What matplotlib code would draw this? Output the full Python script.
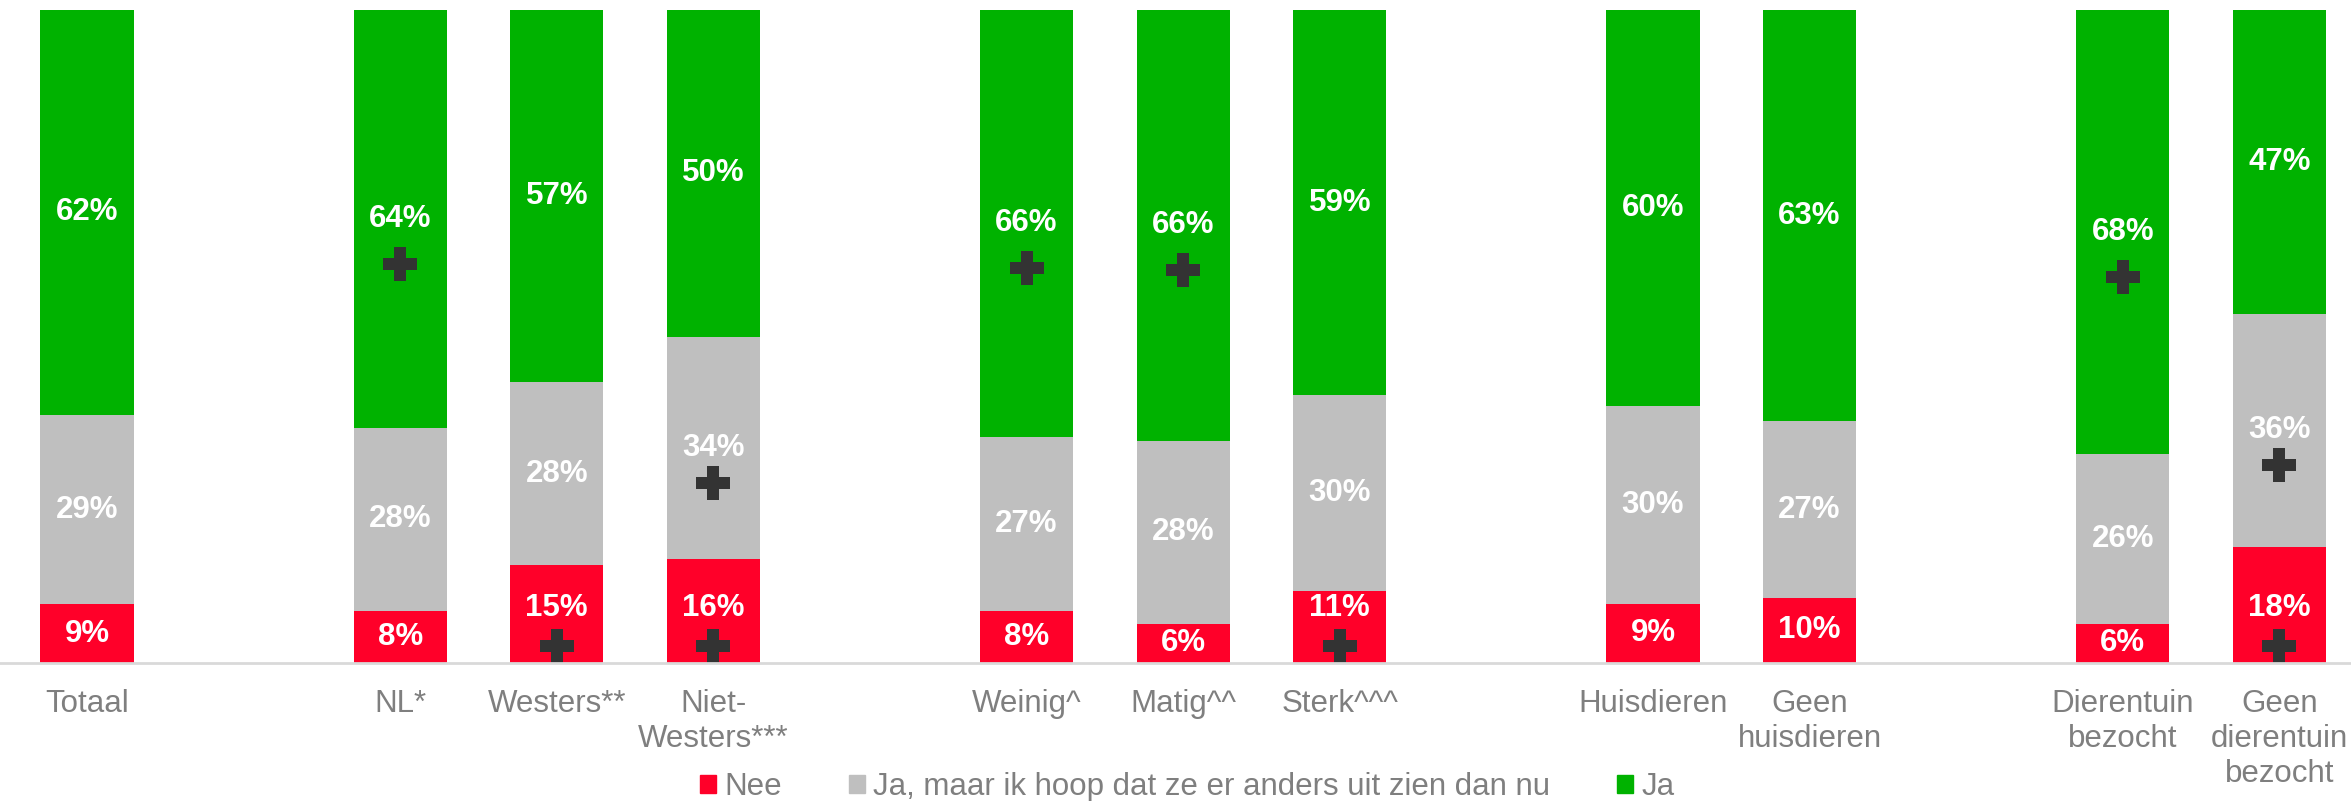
import numpy as np
import matplotlib.pyplot as plt
import matplotlib.transforms as mtransforms
from matplotlib.patches import Patch

plt.rcParams.update({
    "font.family": ["Liberation Sans", "DejaVu Sans"],
})

# data (percentages)
categories = ["Totaal", "NL*", "Westers**", "Niet-\nWesters***",
              "Weinig^", "Matig^^", "Sterk^^^",
              "Huisdieren", "Geen\nhuisdieren",
              "Dierentuin\nbezocht", "Geen\ndierentuin\nbezocht"]
slots = [0, 2, 3, 4, 6, 7, 8, 10, 11, 13, 14]
nee = [9, 8, 15, 16, 8, 6, 11, 9, 10, 6, 18]
ja_maar = [29, 28, 28, 34, 27, 28, 30, 30, 27, 26, 36]
ja = [62, 64, 57, 50, 66, 66, 59, 60, 63, 68, 47]
# significance markers (+) per segment
plus_nee = [0, 0, 1, 1, 0, 0, 1, 0, 0, 0, 1]
plus_ja_maar = [0, 0, 0, 1, 0, 0, 0, 0, 0, 0, 1]
plus_ja = [0, 1, 0, 0, 1, 1, 0, 0, 0, 1, 0]
series_names = ["Nee", "Ja, maar ik hoop dat ze er anders uit zien dan nu", "Ja"]

RED = "#FF0029"
GREY = "#BFBFBF"
GREEN = "#00B200"
DARK = "#333333"
TEXT = "#7F7F7F"

W, H, DPI = 2351, 801, 100
fig = plt.figure(figsize=(W / DPI, H / DPI), dpi=DPI)
ax = fig.add_axes([0, 1 - 663 / H, 1, 653 / H])

x = np.array(slots, dtype=float)
vals = np.array([nee, ja_maar, ja], dtype=float)
shares = vals / vals.sum(axis=0) * 100
colors = [RED, GREY, GREEN]
pluses = [plus_nee, plus_ja_maar, plus_ja]
width = 0.594

bottom = np.zeros(len(x))
for k in range(3):
    ax.bar(x, shares[k], width, bottom=bottom, color=colors[k], linewidth=0)
    for i in range(len(x)):
        lbl = f"{int(vals[k, i])}%"
        if k == 0 and pluses[k][i]:
            # red segment with marker: label raised, marker near baseline
            ax.annotate(lbl, (x[i], 0), xytext=(0, 55 * 72 / DPI), textcoords="offset points",
                        ha="center", va="center", color="white", fontsize=22.5, fontweight="bold")
            tr = mtransforms.offset_copy(ax.transData, fig=fig, y=17, units="dots")
            ax.plot(x[i], 0, marker="P", markersize=25, color=DARK, mew=0, transform=tr)
        else:
            yc = bottom[i] + shares[k, i] / 2
            ax.text(x[i], yc, lbl, ha="center", va="center", color="white",
                    fontsize=22.5, fontweight="bold")
            if pluses[k][i]:
                dy = 45 if k == 2 else 35
                tr = mtransforms.offset_copy(ax.transData, fig=fig, y=-dy, units="dots")
                ax.plot(x[i], yc, marker="P", markersize=25, color=DARK, mew=0, transform=tr)
    bottom += shares[k]

ax.set_xlim(-87 / 156.6, (W - 87) / 156.6)
ax.set_ylim(0, 100)
ax.set_xticks(x, categories)
ax.tick_params(axis="x", length=0, pad=19, labelsize=22.5, labelcolor=TEXT)
ax.set_yticks([])
for s in ["top", "left", "right"]:
    ax.spines[s].set_visible(False)
ax.spines["bottom"].set_color("#D9D9D9")
ax.spines["bottom"].set_linewidth(2)

handles = [Patch(color=c) for c in colors]
fig.legend(handles, series_names, loc="center", bbox_to_anchor=(0.505, 0.017), ncol=3,
           frameon=False, fontsize=22.5, labelcolor=TEXT, handlelength=0.52, handleheight=0.52,
           handletextpad=0.25, columnspacing=2.15, borderpad=0, borderaxespad=0)

fig.savefig("out.png", dpi=DPI)
